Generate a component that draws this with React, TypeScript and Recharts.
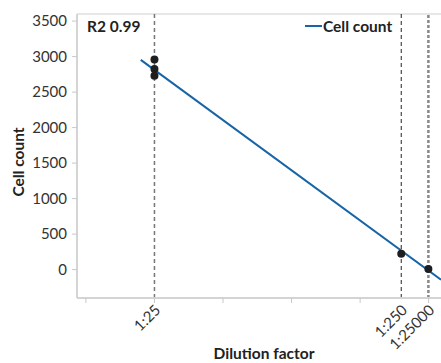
import React from 'react';
import { ScatterChart, Scatter, XAxis, YAxis, ReferenceLine, Legend } from 'recharts';

// x is the sample fraction (1 / dilution), drawn on a reversed linear axis
const DILUTION_LABELS = ['1:25', '1:250', '1:25000'];
const DILUTION_FRACTIONS = [0.04, 0.004, 0.00004];
const MINOR_TICKS = [0.05, 0.04, 0.03, 0.02, 0.01, 0];
const Y_TICKS = [0, 500, 1000, 1500, 2000, 2500, 3000, 3500];

const MEASURED_X = [0.04, 0.04, 0.04, 0.004, 0.00004];
const MEASURED_COUNT = [2960, 2827, 2729, 225, 10];

// regression line end points
const FIT_X = [0.042, -0.0018];
const FIT_COUNT = [2954, -142];

const R2 = 0.99;

const points = MEASURED_X.map((x, i) => ({ x, y: MEASURED_COUNT[i] }));
const fit = FIT_X.map((x, i) => ({ x, y: FIT_COUNT[i] }));
const allTicks = Array.from(new Set([...MINOR_TICKS, ...DILUTION_FRACTIONS])).sort((a, b) => b - a);

const FONT = 'Lato, "Open Sans", sans-serif';
const BLUE = '#1764a6';

function DilutionTick({ x, y, payload }: { x?: number; y?: number; payload?: { value: number } }) {
  const v = payload?.value ?? 0;
  const idx = DILUTION_FRACTIONS.indexOf(v);
  const isMinor = MINOR_TICKS.includes(v);
  return (
    <g transform={`translate(${x},${y})`}>
      {isMinor && <line x1={0} y1={0} x2={0} y2={5} stroke="#c8c8c8" strokeWidth={1} />}
      {idx >= 0 && (
        <text x={0} y={0} transform="translate(7,13) rotate(-45)" textAnchor="end"
          fill="#333" fontSize={15} fontFamily={FONT}>
          {DILUTION_LABELS[idx]}
        </text>
      )}
    </g>
  );
}

function LegendContent() {
  return (
    <div style={{ display: 'flex', alignItems: 'center', fontFamily: FONT, fontSize: 15.5, fontWeight: 700, color: '#222' }}>
      <span style={{ width: 17, height: 2, background: BLUE, display: 'inline-block', marginRight: 1 }} />
      <span>Cell count</span>
    </div>
  );
}

export default function App() {
  return (
    <div style={{ position: 'absolute', left: 0, top: 0 }}>
      <ScatterChart width={441} height={363} margin={{ top: 14, right: 0, bottom: 0, left: 0 }}>
        <XAxis
          type="number"
          dataKey="x"
          reversed
          domain={[-0.0018, 0.0513]}
          allowDataOverflow
          ticks={allTicks}
          interval={0}
          tick={<DilutionTick />}
          tickLine={false}
          tickSize={0}
          tickMargin={0}
          axisLine={{ stroke: '#d4d4d4', strokeWidth: 2 }}
          height={65}
          label={{ value: 'Dilution factor', position: 'insideBottom', offset: 4, dx: 5, fill: '#222', fontSize: 15.5, fontWeight: 700, fontFamily: FONT }}
        />
        <YAxis
          type="number"
          dataKey="y"
          domain={[-400, 3600]}
          allowDataOverflow
          ticks={Y_TICKS}
          interval={0}
          width={77}
          tickSize={5}
          tickMargin={5}
          tickLine={{ stroke: '#c8c8c8' }}
          axisLine={{ stroke: '#d4d4d4', strokeWidth: 2 }}
          tick={{ fill: '#333', fontSize: 15, fontFamily: FONT }}
          label={() => (
            <text x={18} y={162} transform="rotate(-90, 18, 162)" textAnchor="middle" dominantBaseline="central"
              fill="#222" fontSize={15.5} fontWeight={700} fontFamily={FONT}>
              Cell count
            </text>
          )}
        />
        <ReferenceLine y={3600} stroke="#cfcfcf" strokeWidth={1}
          label={{ value: `R2 ${R2}`, position: 'insideTopLeft', offset: 10, dy: -3, fill: '#222', fontSize: 15.5, fontWeight: 700, fontFamily: FONT }} />
        <ReferenceLine x={DILUTION_FRACTIONS[0]} stroke="#777" strokeWidth={1.5} strokeDasharray="4 3" />
        <ReferenceLine x={DILUTION_FRACTIONS[1]} stroke="#222" strokeWidth={1} strokeDasharray="4 3" />
        <ReferenceLine x={DILUTION_FRACTIONS[2]} stroke="#888" strokeWidth={2.5} strokeDasharray="3 2" />
        <Legend
          content={<LegendContent />}
          layout="vertical"
          align="center"
          verticalAlign="middle"
          wrapperStyle={{ position: 'absolute', left: 305, top: 17, width: 'auto', height: 'auto' }}
        />
        <Scatter
          name="Cell count"
          data={fit}
          line={{ stroke: BLUE, strokeWidth: 2 }}
          shape={() => <g />}
          isAnimationActive={false}
        />
        <Scatter
          name="Measured"
          data={points}
          fill="#1e1e1e"
          shape={(p: any) => <circle cx={p.cx} cy={p.cy} r={4} fill="#1e1e1e" />}
          isAnimationActive={false}
        />
      </ScatterChart>
    </div>
  );
}
